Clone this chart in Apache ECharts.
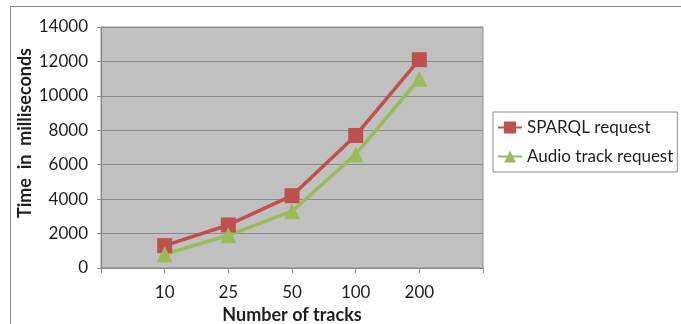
<!DOCTYPE html>
<html>
<head>
<meta charset="utf-8">
<script src="https://cdn.jsdelivr.net/npm/echarts@6/dist/echarts.min.js"></script>
<style>
  html, body { margin: 0; padding: 0; background: #fff; }
  #chart { width: 681px; height: 324px; }
</style>
</head>
<body>
<div id="chart"></div>
<script>
// Track counts (blank slots pad the axis on both sides)
const categories = ['', '10', '25', '50', '100', '200', ''];
const sparqlMs = [null, 1300, 2500, 4200, 7700, 12100, null];
const audioMs = [null, 800, 1900, 3300, 6600, 11000, null];
const yTicks = { min: 0, max: 14000, step: 2000 };

const FONT = 'Lato, "Open Sans", sans-serif';
const RED = '#c0504d';
const GREEN = '#9bbb59';
const INK = '#1f1f1f';
const RULE = '#8a8a8a';

const chart = echarts.init(document.getElementById('chart'), null, { renderer: 'canvas' });

chart.setOption({
  backgroundColor: '#ffffff',
  animation: false,
  textStyle: { fontFamily: FONT },
  grid: { left: 101, top: 27, right: 198, bottom: 56, show: true,
          outerBoundsMode: 'none', containLabel: false,
          backgroundColor: '#c0c0c0', borderColor: RULE, borderWidth: 1 },
  graphic: [
    { type: 'rect', shape: { x: 10.5, y: 6.5, width: 700, height: 340 },
      style: { fill: 'none', stroke: RULE, lineWidth: 1 }, silent: true },
    // vertical axis title
    { type: 'text', x: 25, y: 133, rotation: Math.PI / 2, silent: true,
      style: { text: 'Time  in  milliseconds', fontFamily: FONT, fontSize: 18,
               fontWeight: 'bold', fill: INK, align: 'center', verticalAlign: 'middle' } }
  ],
  legend: {
    orient: 'vertical',
    left: 493, top: 112,
    itemWidth: 24, itemHeight: 15, itemGap: 12,
    padding: [7, 4, 7, 4],
    borderColor: RULE, borderWidth: 1,
    textStyle: { fontFamily: FONT, fontSize: 17, color: INK },
    data: ['SPARQL request', 'Audio track request']
  },
  xAxis: {
    type: 'category',
    data: categories,
    boundaryGap: false,
    name: 'Number of tracks',
    nameLocation: 'middle',
    nameGap: 38,
    nameTextStyle: { fontFamily: FONT, fontSize: 18, fontWeight: 'bold', color: INK },
    axisLine: { lineStyle: { color: RULE } },
    axisTick: { show: true, length: 5, lineStyle: { color: RULE }, alignWithLabel: true },
    axisLabel: { fontFamily: FONT, fontSize: 17, color: INK, margin: 16 },
    splitLine: { show: false }
  },
  yAxis: {
    type: 'value',
    min: yTicks.min, max: yTicks.max, interval: yTicks.step,
    axisLine: { show: true, lineStyle: { color: RULE } },
    axisTick: { show: true, length: 4, lineStyle: { color: RULE } },
    axisLabel: { fontFamily: FONT, fontSize: 17, color: INK, margin: 13,
                 formatter: v => String(v) },
    splitLine: { lineStyle: { color: RULE, width: 1 } }
  },
  series: [
    {
      name: 'SPARQL request', type: 'line', data: sparqlMs,
      symbol: 'rect', symbolSize: 15,
      lineStyle: { color: RED, width: 3.5 }, itemStyle: { color: RED }
    },
    {
      name: 'Audio track request', type: 'line', data: audioMs,
      symbol: 'triangle', symbolSize: 16,
      lineStyle: { color: GREEN, width: 3.5 }, itemStyle: { color: GREEN }
    }
  ]
});
</script>
</body>
</html>
